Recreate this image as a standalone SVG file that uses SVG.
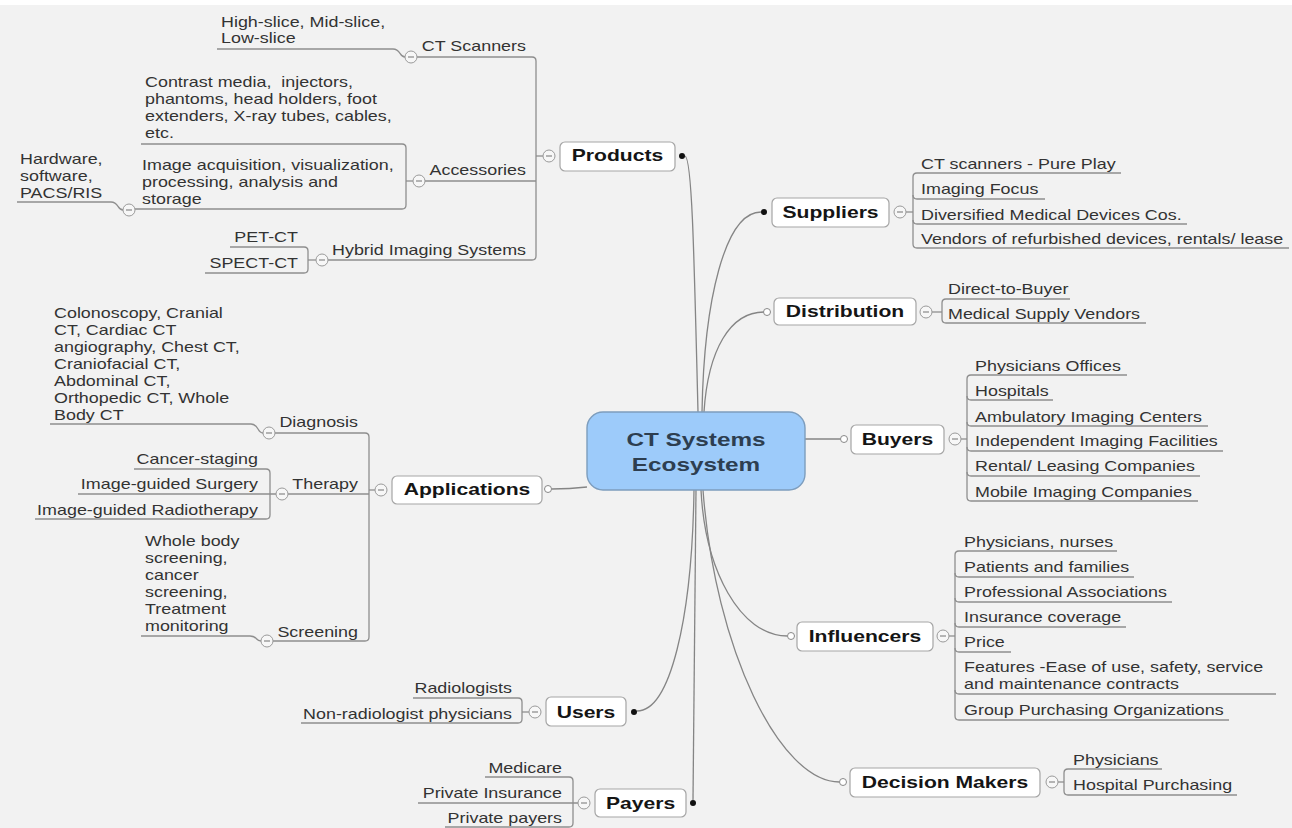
<svg xmlns="http://www.w3.org/2000/svg" xmlns:xlink="http://www.w3.org/1999/xlink" width="1292" height="828" viewBox="0 0 1292 828">
<defs>
<style>
.t{font-family:"Liberation Sans",Arial,sans-serif;font-size:14px;fill:#333}
.e{text-anchor:end}
.h{font-family:"Liberation Sans",Arial,sans-serif;font-size:16.5px;font-weight:bold;fill:#151515;text-anchor:middle}
.c{font-family:"Liberation Sans",Arial,sans-serif;font-size:19px;font-weight:bold;fill:#2d3e50;text-anchor:middle}
.box{fill:#fff;stroke:#a5a5a5;stroke-width:1.2}
.ln{fill:none;stroke:#8e8e8e;stroke-width:1.3}
.cn{fill:none;stroke:#858585;stroke-width:1.3}
.mc{fill:#f7f7f7;stroke:#9a9a9a;stroke-width:1}
.mm{stroke:#888;stroke-width:1.2}
.dot{fill:#111}
.od{fill:#fff;stroke:#888;stroke-width:1}
</style>
<g id="minus"><circle r="6" class="mc"/><path d="M-3,0H3" class="mm"/></g>
</defs>
<rect width="1292" height="828" fill="#ffffff"/>
<rect y="5" width="1292" height="823" fill="#f2f2f2"/>

<g id="connectors">
<!-- central connectors -->
<path class="cn" d="M698,412 C694,250 692,158 685,156"/>
<path class="cn" d="M702,412 C704,300 725,212 761,212"/>
<path class="cn" d="M704,412 C708,350 730,312 764,312"/>
<path class="cn" d="M805,439 H840.5"/>
<path class="cn" d="M587,487 Q570,489 551.5,489"/>
<path class="cn" d="M694,490 C692,620 670,711 637,711"/>
<path class="cn" d="M696,490 L693,800"/>
<path class="cn" d="M701,490 C705,570 740,636 787.5,636"/>
<path class="cn" d="M703,490 C715,650 780,782 839.5,782"/>
<!-- Suppliers -->
<path class="ln" d="M906,212 H913"/>
<path class="ln" d="M1121,173 H917 Q913,173 913,177 V244 Q913,248 917,248 H1289"/>
<path class="ln" d="M913,195 Q913,199 917,199 H1045"/>
<path class="ln" d="M913,220 Q913,224 917,224 H1187"/>
<!-- Distribution -->
<path class="ln" d="M932,312 H942"/>
<path class="ln" d="M1070,299 H946 Q942,299 942,303 V319 Q942,323 946,323 H1146"/>
<!-- Buyers -->
<path class="ln" d="M961,439 H967"/>
<path class="ln" d="M1127,375 H971 Q967,375 967,379 V497 Q967,501 971,501 H1198"/>
<path class="ln" d="M967,396 Q967,400 971,400 H1053"/>
<path class="ln" d="M967,422 Q967,426 971,426 H1208"/>
<path class="ln" d="M967,447 Q967,451 971,451 H1223"/>
<path class="ln" d="M967,472 Q967,476 971,476 H1200"/>
<!-- Influencers -->
<path class="ln" d="M949,636 H955"/>
<path class="ln" d="M1117,551 H959 Q955,551 955,555 V716 Q955,720 959,720 H1229"/>
<path class="ln" d="M955,573 Q955,577 959,577 H1134"/>
<path class="ln" d="M955,598 Q955,602 959,602 H1172"/>
<path class="ln" d="M955,623 Q955,627 959,627 H1126"/>
<path class="ln" d="M955,648 Q955,652 959,652 H1011"/>
<path class="ln" d="M955,690 Q955,694 959,694 H1276"/>
<!-- Decision Makers -->
<path class="ln" d="M1058,782 H1064"/>
<path class="ln" d="M1162,769 H1068 Q1064,769 1064,773 V791 Q1064,795 1068,795 H1237"/>
<!-- Products -->
<path class="ln" d="M543,156 H536"/>
<path class="ln" d="M417,57 H532 Q536,57 536,61 V256 Q536,260 532,260 H328"/>
<path class="ln" d="M425,181 H536"/>
<path class="ln" d="M217,49 H393 C401,49 399,57 405,57"/>
<path class="ln" d="M141,144 H402 Q406,144 406,148 V205 Q406,209 402,209 H135"/>
<path class="ln" d="M413,181 H406"/>
<path class="ln" d="M17,202 H111 C119,202 117,210 123,210"/>
<path class="ln" d="M230,247 H304 Q308,247 308,251 V269 Q308,273 304,273 H205"/>
<path class="ln" d="M316,260 H308"/>
<!-- Applications -->
<path class="ln" d="M375,490 H369"/>
<path class="ln" d="M275,433 H365 Q369,433 369,437 V637 Q369,641 365,641 H273"/>
<path class="ln" d="M288,494 H369"/>
<path class="ln" d="M50,424 H251 C259,424 257,433 263,433"/>
<path class="ln" d="M134,469 H266 Q270,469 270,473 V515 Q270,519 266,519 H35"/>
<path class="ln" d="M78,494 H276"/>
<path class="ln" d="M141,636 H250 C258,636 255,641 261,641"/>
<!-- Users -->
<path class="ln" d="M529,712 H522"/>
<path class="ln" d="M413,698 H518 Q522,698 522,702 V719 Q522,723 518,723 H301"/>
<!-- Payers -->
<path class="ln" d="M485,777 H569 Q573,777 573,781 V823 Q573,827 569,827 H445"/>
<path class="ln" d="M418,803 H578"/>
</g>

<g id="center">
<rect x="587" y="412" width="218" height="78" rx="16" fill="#9dcbfa" stroke="#7d9dbd" stroke-width="1.4"/>
<text class="c" transform="translate(696 446) scale(1.28 1)">CT Systems</text>
<text class="c" transform="translate(696 471) scale(1.28 1)">Ecosystem</text>
</g>

<g id="products">
<rect class="box" x="560" y="142" width="115" height="29" rx="5"/>
<text class="h" transform="translate(617.5 161) scale(1.28 1)">Products</text>
<circle class="dot" cx="682" cy="156" r="3"/>
<use xlink:href="#minus" x="549" y="156"/>
<g id="ct-scanners">
<text class="t e" transform="translate(526 51) scale(1.28 1)">CT Scanners</text>
<use xlink:href="#minus" x="411" y="57"/>
<text class="t" transform="translate(221 27) scale(1.28 1)"><tspan x="0" y="0">High-slice, Mid-slice,</tspan><tspan x="0" dy="16">Low-slice</tspan></text>
</g>
<g id="accessories">
<text class="t e" transform="translate(526 175) scale(1.28 1)">Accessories</text>
<use xlink:href="#minus" x="419" y="181"/>
<text class="t" style="white-space:pre" transform="translate(145 87) scale(1.28 1)"><tspan x="0" y="0">Contrast media,  injectors,</tspan><tspan x="0" dy="17">phantoms, head holders, foot</tspan><tspan x="0" dy="17">extenders, X-ray tubes, cables,</tspan><tspan x="0" dy="17">etc.</tspan></text>
<text class="t" transform="translate(142 170) scale(1.28 1)"><tspan x="0" y="0">Image acquisition, visualization,</tspan><tspan x="0" dy="17">processing, analysis and</tspan><tspan x="0" dy="17">storage</tspan></text>
<use xlink:href="#minus" x="129" y="210"/>
<text class="t" transform="translate(20 164) scale(1.28 1)"><tspan x="0" y="0">Hardware,</tspan><tspan x="0" dy="17">software,</tspan><tspan x="0" dy="17">PACS/RIS</tspan></text>
</g>
<g id="hybrid">
<text class="t e" transform="translate(526 255) scale(1.28 1)">Hybrid Imaging Systems</text>
<use xlink:href="#minus" x="322" y="260"/>
<text class="t e" transform="translate(298 242) scale(1.28 1)">PET-CT</text>
<text class="t e" transform="translate(298 268) scale(1.28 1)">SPECT-CT</text>
</g>
</g>

<g id="applications">
<rect class="box" x="392" y="476" width="150" height="28" rx="5"/>
<text class="h" transform="translate(467 495) scale(1.28 1)">Applications</text>
<circle class="od" cx="548" cy="489" r="3.5"/>
<use xlink:href="#minus" x="381" y="490"/>
<g id="diagnosis">
<text class="t e" transform="translate(358 427) scale(1.28 1)">Diagnosis</text>
<use xlink:href="#minus" x="269" y="433"/>
<text class="t" transform="translate(54 318) scale(1.28 1)"><tspan x="0" y="0">Colonoscopy, Cranial</tspan><tspan x="0" dy="17">CT, Cardiac CT</tspan><tspan x="0" dy="17">angiography, Chest CT,</tspan><tspan x="0" dy="17">Craniofacial CT,</tspan><tspan x="0" dy="17">Abdominal CT,</tspan><tspan x="0" dy="17">Orthopedic CT, Whole</tspan><tspan x="0" dy="17">Body CT</tspan></text>
</g>
<g id="therapy">
<text class="t e" transform="translate(358 489) scale(1.28 1)">Therapy</text>
<use xlink:href="#minus" x="282" y="494"/>
<text class="t e" transform="translate(258 464) scale(1.28 1)">Cancer-staging</text>
<text class="t e" transform="translate(258 489) scale(1.28 1)">Image-guided Surgery</text>
<text class="t e" transform="translate(258 515) scale(1.28 1)">Image-guided Radiotherapy</text>
</g>
<g id="screening">
<text class="t e" transform="translate(358 637) scale(1.28 1)">Screening</text>
<use xlink:href="#minus" x="267" y="641"/>
<text class="t" transform="translate(145 546) scale(1.28 1)"><tspan x="0" y="0">Whole body</tspan><tspan x="0" dy="17">screening,</tspan><tspan x="0" dy="17">cancer</tspan><tspan x="0" dy="17">screening,</tspan><tspan x="0" dy="17">Treatment</tspan><tspan x="0" dy="17">monitoring</tspan></text>
</g>
</g>

<g id="users">
<rect class="box" x="546" y="697" width="80" height="29" rx="5"/>
<text class="h" transform="translate(586 718) scale(1.28 1)">Users</text>
<circle class="dot" cx="634" cy="712" r="3"/>
<use xlink:href="#minus" x="535" y="712"/>
<text class="t e" transform="translate(512 693) scale(1.28 1)">Radiologists</text>
<text class="t e" transform="translate(512 719) scale(1.28 1)">Non-radiologist physicians</text>
</g>

<g id="payers">
<rect class="box" x="595" y="789" width="91" height="28" rx="5"/>
<text class="h" transform="translate(640.5 809) scale(1.28 1)">Payers</text>
<circle class="dot" cx="693" cy="803" r="3"/>
<use xlink:href="#minus" x="584" y="803"/>
<text class="t e" transform="translate(562 773) scale(1.28 1)">Medicare</text>
<text class="t e" transform="translate(562 798) scale(1.28 1)">Private Insurance</text>
<text class="t e" transform="translate(562 823) scale(1.28 1)">Private payers</text>
</g>

<g id="suppliers">
<rect class="box" x="772" y="198" width="117" height="29" rx="5"/>
<text class="h" transform="translate(830.5 218) scale(1.28 1)">Suppliers</text>
<circle class="dot" cx="764" cy="212" r="3"/>
<use xlink:href="#minus" x="900" y="212"/>
<text class="t" transform="translate(921 169) scale(1.28 1)">CT scanners - Pure Play</text>
<text class="t" transform="translate(921 194) scale(1.28 1)">Imaging Focus</text>
<text class="t" transform="translate(921 220) scale(1.28 1)">Diversified Medical Devices Cos.</text>
<text class="t" transform="translate(921 244) scale(1.28 1)">Vendors of refurbished devices, rentals/ lease</text>
</g>

<g id="distribution">
<rect class="box" x="774" y="298" width="142" height="27" rx="5"/>
<text class="h" transform="translate(845 317) scale(1.28 1)">Distribution</text>
<circle class="od" cx="767" cy="312" r="3.5"/>
<use xlink:href="#minus" x="926" y="312"/>
<text class="t" transform="translate(948 294) scale(1.28 1)">Direct-to-Buyer</text>
<text class="t" transform="translate(948 319) scale(1.28 1)">Medical Supply Vendors</text>
</g>

<g id="buyers">
<rect class="box" x="851" y="425" width="93" height="29" rx="5"/>
<text class="h" transform="translate(897.5 445) scale(1.28 1)">Buyers</text>
<circle class="od" cx="844" cy="439" r="3.5"/>
<use xlink:href="#minus" x="955" y="439"/>
<text class="t" transform="translate(975 371) scale(1.28 1)">Physicians Offices</text>
<text class="t" transform="translate(975 396) scale(1.28 1)">Hospitals</text>
<text class="t" transform="translate(975 422) scale(1.28 1)">Ambulatory Imaging Centers</text>
<text class="t" transform="translate(975 446) scale(1.28 1)">Independent Imaging Facilities</text>
<text class="t" transform="translate(975 471) scale(1.28 1)">Rental/ Leasing Companies</text>
<text class="t" transform="translate(975 497) scale(1.28 1)">Mobile Imaging Companies</text>
</g>

<g id="influencers">
<rect class="box" x="797" y="622" width="136" height="29" rx="5"/>
<text class="h" transform="translate(865 642) scale(1.28 1)">Influencers</text>
<circle class="od" cx="791" cy="636" r="3.5"/>
<use xlink:href="#minus" x="943" y="636"/>
<text class="t" transform="translate(964 547) scale(1.28 1)">Physicians, nurses</text>
<text class="t" transform="translate(964 572) scale(1.28 1)">Patients and families</text>
<text class="t" transform="translate(964 597) scale(1.28 1)">Professional Associations</text>
<text class="t" transform="translate(964 622) scale(1.28 1)">Insurance coverage</text>
<text class="t" transform="translate(964 647) scale(1.28 1)">Price</text>
<text class="t" transform="translate(964 672) scale(1.28 1)"><tspan x="0" y="0">Features -Ease of use, safety, service</tspan><tspan x="0" dy="17">and maintenance contracts</tspan></text>
<text class="t" transform="translate(964 715) scale(1.28 1)">Group Purchasing Organizations</text>
</g>

<g id="decision-makers">
<rect class="box" x="850" y="768" width="190" height="29" rx="5"/>
<text class="h" transform="translate(945 788) scale(1.28 1)">Decision Makers</text>
<circle class="od" cx="843" cy="782" r="3.5"/>
<use xlink:href="#minus" x="1052" y="782"/>
<text class="t" transform="translate(1073 765) scale(1.28 1)">Physicians</text>
<text class="t" transform="translate(1073 790) scale(1.28 1)">Hospital Purchasing</text>
</g>
</svg>
